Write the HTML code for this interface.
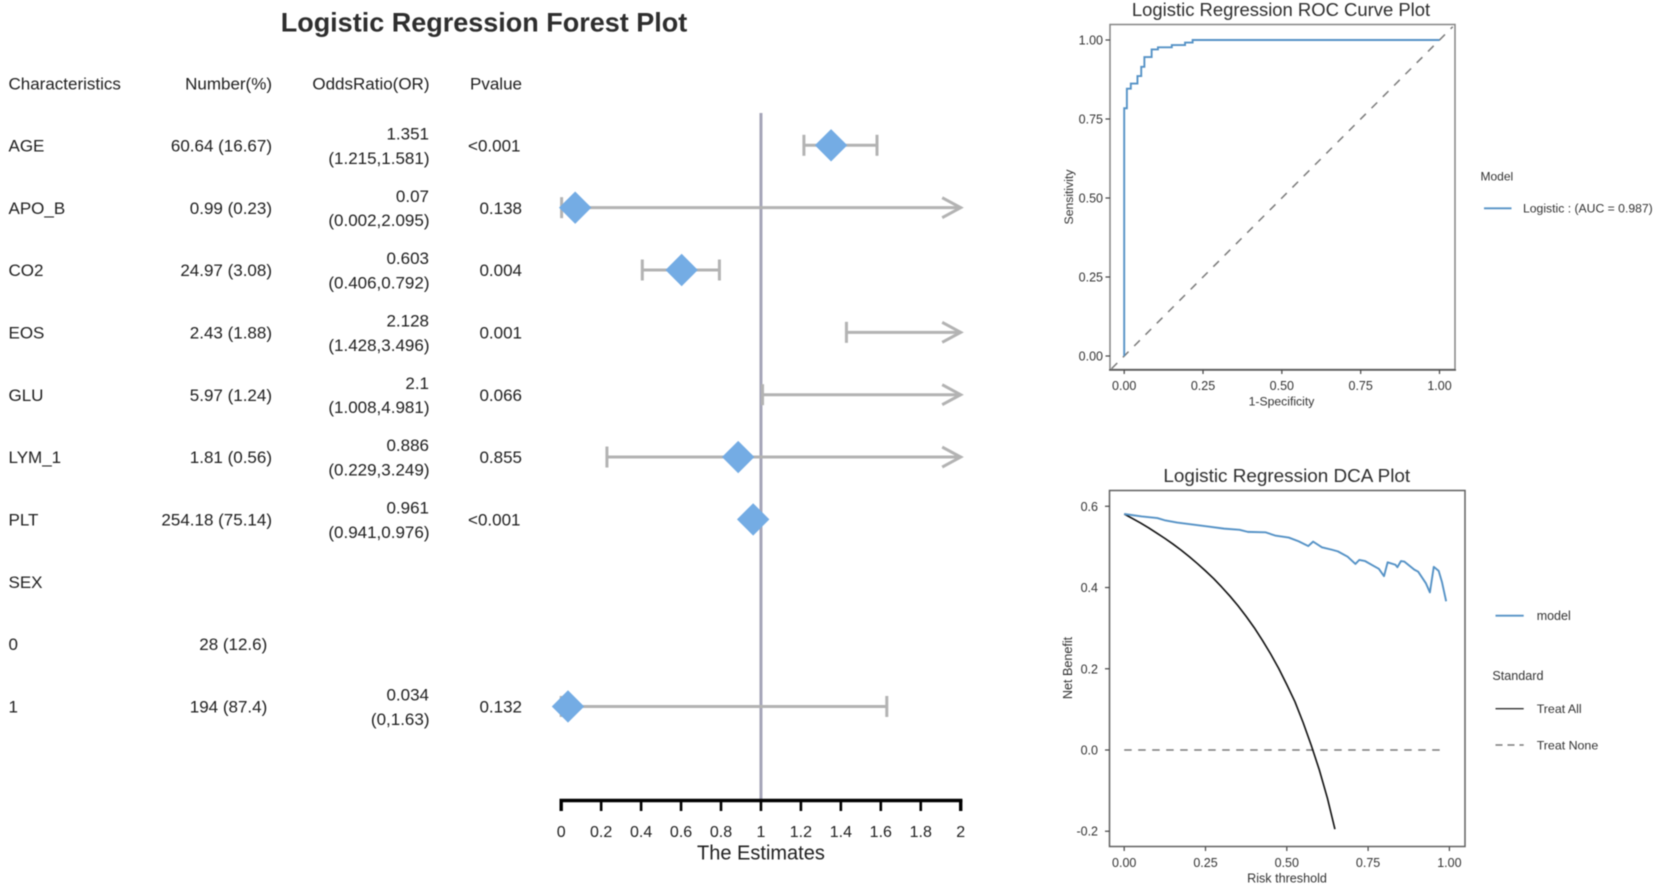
<!DOCTYPE html>
<html lang="en">
<head>
<meta charset="utf-8">
<title>Logistic Regression Forest, ROC and DCA Plots</title>
<style>
html,body{margin:0;padding:0;background:#fff;width:1654px;height:889px;overflow:hidden}
svg{display:block;filter:blur(0.5px)}
text{font-family:"Liberation Sans",sans-serif}
</style>
</head>
<body>
<svg id="root" xmlns="http://www.w3.org/2000/svg" width="1654" height="889" viewBox="0 0 1654 889">
<rect x="0" y="0" width="1654" height="889" fill="#ffffff"></rect>
</svg>
<script>
// ---------- Forest plot data ----------
const forestLabels = ['AGE','APO_B','CO2','EOS','GLU','LYM_1','PLT','SEX','0','1'];
const forestNumbers = ['60.64 (16.67)','0.99 (0.23)','24.97 (3.08)','2.43 (1.88)','5.97 (1.24)','1.81 (0.56)','254.18 (75.14)','','28 (12.6)\u00a0','194 (87.4)\u00a0'];
const forestEstimates = [1.351,0.07,0.603,2.128,2.1,0.886,0.961,null,null,0.034];
const forestLows = [1.215,0.002,0.406,1.428,1.008,0.229,0.941,null,null,0];
const forestHighs = [1.581,2.095,0.792,3.496,4.981,3.249,0.976,null,null,1.63];
const forestPvalues = ['<0.001','0.138','0.004','0.001','0.066','0.855','<0.001','','','0.132'];
const forestTicks = [0,0.2,0.4,0.6,0.8,1,1.2,1.4,1.6,1.8,2];

// ---------- ROC data ----------
const rocFpr = [0,0,0.0085,0.021,0.042,0.054,0.064,0.087,0.107,0.151,0.193,0.217,1];
const rocTpr = [0,0.784,0.846,0.862,0.886,0.915,0.946,0.97,0.977,0.984,0.992,1,1];
const rocDiagonal = [-0.04,1.042];
const rocTicks = [0,0.25,0.5,0.75,1];

// ---------- DCA data ----------
const dcaThresholds = [0,0.054,0.102,0.127,0.163,0.211,0.259,0.307,0.355,0.38,0.434,0.464,0.506,0.536,0.566,0.581,0.608,0.639,0.657,0.687,0.711,0.723,0.741,0.765,0.783,0.799,0.81,0.834,0.84,0.851,0.861,0.892,0.904,0.928,0.94,0.952,0.967,0.977,0.99];
const dcaModel = [0.581,0.575,0.571,0.565,0.56,0.555,0.55,0.545,0.542,0.537,0.536,0.528,0.523,0.514,0.502,0.513,0.499,0.493,0.489,0.476,0.458,0.468,0.465,0.454,0.446,0.428,0.462,0.456,0.45,0.465,0.464,0.444,0.439,0.41,0.388,0.451,0.441,0.414,0.366];
const treatAllThresholds = [0,0.025,0.05,0.075,0.1,0.125,0.15,0.175,0.2,0.225,0.25,0.275,0.3,0.325,0.35,0.375,0.4,0.425,0.45,0.475,0.5,0.525,0.55,0.575,0.6,0.625,0.648];
const treatAllValues = [0.581,0.57,0.559,0.547,0.534,0.521,0.507,0.492,0.476,0.459,0.441,0.422,0.401,0.379,0.355,0.329,0.301,0.27,0.237,0.201,0.161,0.119,0.068,0.012,-0.049,-0.119,-0.195];
const treatNoneThresholds = [0,0.976];
const treatNoneValues = [0,0];
const dcaXTicks = [0,0.25,0.5,0.75,1];
const dcaYTicks = [-0.2,0,0.2,0.4,0.6];

const root = document.getElementById('root');
const NS = 'http://www.w3.org/2000/svg';
function mk(tag, attrs) {
  const el = document.createElementNS(NS, tag);
  for (const k in attrs) el.setAttribute(k, attrs[k]);
  root.appendChild(el);
  return el;
}
function txt(str, x, cy, size, anchor, fill, extra) {
  const el = mk('text', Object.assign({x: x, y: cy + size * 0.36, 'font-size': size, 'text-anchor': anchor, fill: fill}, extra || {}));
  el.textContent = str;
  return el;
}
function vtxt(str, cx, cy, size, fill) {
  const el = mk('text', {x: 0, y: size * 0.36, 'font-size': size, 'text-anchor': 'middle', fill: fill, transform: 'translate(' + cx + ',' + cy + ') rotate(-90)'});
  el.textContent = str;
  return el;
}
function named(el, name) {
  
  
  return el;
}

// ---------- Forest axis functions ----------
const fx = v => 561.2 + v * 199.75;
const fy = i => 145.3 + i * 62.35;
const TXT = '#202020';
const GREY = '#b3b3b3';

named(txt('Logistic Regression Forest Plot', 484, 22, 27, 'middle', '#2e2e2e', {'font-weight': 'bold'}), 'forest-title');
named(txt('Characteristics', 8.5, 83.5, 17, 'start', TXT), 'header-characteristics');
named(txt('Number(%)', 272, 83.5, 17, 'end', TXT), 'header-number');
named(txt('OddsRatio(OR)', 429.5, 83.5, 17, 'end', TXT), 'header-odds-ratio');
named(txt('Pvalue', 522, 83.5, 17, 'end', TXT), 'header-pvalue');

forestLabels.forEach(function (label, i) {
  const y = fy(i);
  named(txt(label, 8.5, y, 17, 'start', TXT), 'row-label');
  if (forestNumbers[i]) named(txt(forestNumbers[i], 272, y, 17, 'end', TXT), 'row-number');
  if (forestEstimates[i] !== null) {
    named(txt(String(forestEstimates[i]), 429, y - 12, 17, 'end', TXT), 'row-odds-ratio');
    named(txt('(' + forestLows[i] + ',' + forestHighs[i] + ')', 429.5, y + 12.4, 17, 'end', TXT), 'row-confidence-interval');
  }
  if (forestPvalues[i]) named(txt(forestPvalues[i], forestPvalues[i].charAt(0) === '<' ? 520.5 : 522, y, 17, 'end', TXT), 'row-pvalue');
});

// reference line
const refLine = mk('line', {x1: fx(1), x2: fx(1), y1: 113, y2: 800, stroke: '#a5a5b8', 'stroke-width': 3});
named(refLine, 'reference-line');

// whiskers
forestEstimates.forEach(function (est, i) {
  if (est === null) return;
  const y = fy(i);
  const lo = Math.max(forestLows[i], 0), hi = Math.min(forestHighs[i], 2);
  named(mk('line', {x1: fx(lo), x2: fx(hi), y1: y, y2: y, stroke: GREY, 'stroke-width': 3}), 'confidence-whisker');
  named(mk('line', {x1: fx(lo), x2: fx(lo), y1: y - 10.5, y2: y + 10.5, stroke: GREY, 'stroke-width': 3}), 'whisker-low-cap');
  if (forestHighs[i] > 2) {
    const tip = fx(2);
    named(mk('path', {d: 'M' + (tip - 18.5) + ' ' + (y - 10) + 'L' + tip + ' ' + y + 'L' + (tip - 18.5) + ' ' + (y + 10), fill: 'none', stroke: GREY, 'stroke-width': 3}), 'whisker-arrow');
  } else {
    named(mk('line', {x1: fx(hi), x2: fx(hi), y1: y - 10.5, y2: y + 10.5, stroke: GREY, 'stroke-width': 3}), 'whisker-high-cap');
  }
});
// diamonds
forestEstimates.forEach(function (est, i) {
  if (est === null || est > 2) return;
  const x = fx(est), y = fy(i), r = 16.2;
  named(mk('path', {d: 'M' + (x - r) + ' ' + y + 'L' + x + ' ' + (y - r) + 'L' + (x + r) + ' ' + y + 'L' + x + ' ' + (y + r) + 'Z', fill: '#74ace4'}), 'estimate-diamond');
});
// axis
named(mk('line', {x1: fx(0) - 1.7, x2: fx(2) + 1.7, y1: 800.5, y2: 800.5, stroke: '#000000', 'stroke-width': 3.4}), 'forest-x-axis');
forestTicks.forEach(function (t, i) {
  const w = (i === 0 || i === forestTicks.length - 1) ? 3.4 : 2.6;
  named(mk('line', {x1: fx(t), x2: fx(t), y1: 800, y2: 811, stroke: '#000000', 'stroke-width': w}), 'forest-x-tick');
  named(txt(String(t), fx(t), 831, 16, 'middle', TXT), 'forest-x-tick-label');
});
named(txt('The Estimates', fx(1), 852.5, 20, 'middle', TXT), 'forest-x-axis-title');

// ---------- ROC axis functions ----------
const rx = v => 1124.2 + v * 315.3;
const ry = v => 356 - v * 316;
const AX = '#333333';
const BLUE = '#5592c6';

named(txt('Logistic Regression ROC Curve Plot', 1281, 9.5, 18.45, 'middle', '#2e2e2e'), 'roc-title');
named(mk('rect', {x: 1110, y: 24.5, width: 345, height: 345, fill: 'none', stroke: '#858585', 'stroke-width': 1.5}), 'roc-panel');
named(mk('line', {x1: 1109, x2: 1456, y1: 370, y2: 370, stroke: '#555555', 'stroke-width': 1.5}), 'roc-x-axis');
rocTicks.forEach(function (t) {
  named(mk('line', {x1: rx(t), x2: rx(t), y1: 370, y2: 374, stroke: '#444444', 'stroke-width': 1.2}), 'roc-x-tick');
  named(txt(t.toFixed(2), rx(t), 385.7, 12.5, 'middle', AX), 'roc-x-tick-label');
  named(mk('line', {x1: 1105.5, x2: 1110, y1: ry(t), y2: ry(t), stroke: '#444444', 'stroke-width': 1.2}), 'roc-y-tick');
  named(txt(t.toFixed(2), 1103, ry(t), 12.5, 'end', AX), 'roc-y-tick-label');
});
named(txt('1-Specificity', 1281.5, 401, 12.2, 'middle', AX), 'roc-x-axis-title');
named(vtxt('Sensitivity', 1068.5, 197, 12.2, AX), 'roc-y-axis-title');
named(mk('line', {x1: rx(rocDiagonal[0]), y1: ry(rocDiagonal[0]), x2: rx(rocDiagonal[1]), y2: ry(rocDiagonal[1]), stroke: '#7a7a7a', 'stroke-width': 1.5, 'stroke-dasharray': '8 8'}), 'roc-diagonal');
let rocPath = 'M' + rx(rocFpr[0]) + ' ' + ry(rocTpr[0]);
rocFpr.forEach(function (f, i) {
  if (i === 0) return;
  rocPath += 'L' + rx(f) + ' ' + ry(rocTpr[i - 1]) + 'L' + rx(f) + ' ' + ry(rocTpr[i]);
});
named(mk('path', {d: rocPath, fill: 'none', stroke: BLUE, 'stroke-width': 1.9}), 'roc-curve');
named(txt('Model', 1480.5, 176, 12, 'start', AX), 'roc-legend-title');
named(mk('line', {x1: 1484, x2: 1511.5, y1: 208.3, y2: 208.3, stroke: BLUE, 'stroke-width': 1.9}), 'roc-legend-line');
named(txt('Logistic : (AUC = 0.987)', 1523, 208.3, 12.2, 'start', AX), 'roc-legend-label');

// ---------- DCA axis functions ----------
const dx = v => 1124.2 + v * 325.2;
const dy = v => 750 - v * 406.2;

named(txt('Logistic Regression DCA Plot', 1286.8, 475, 18.9, 'middle', '#2e2e2e'), 'dca-title');
named(mk('rect', {x: 1109.5, y: 490.5, width: 355.5, height: 356, fill: 'none', stroke: '#606060', 'stroke-width': 1.5}), 'dca-panel');
dcaXTicks.forEach(function (t) {
  named(mk('line', {x1: dx(t), x2: dx(t), y1: 847, y2: 851, stroke: '#444444', 'stroke-width': 1.2}), 'dca-x-tick');
  named(txt(t.toFixed(2), dx(t), 862.7, 12.5, 'middle', AX), 'dca-x-tick-label');
});
dcaYTicks.forEach(function (t) {
  named(mk('line', {x1: 1105, x2: 1109.5, y1: dy(t), y2: dy(t), stroke: '#444444', 'stroke-width': 1.2}), 'dca-y-tick');
  named(txt(t.toFixed(1), 1098, dy(t), 12.5, 'end', AX), 'dca-y-tick-label');
});
named(txt('Risk threshold', 1287, 878, 12.6, 'middle', AX), 'dca-x-axis-title');
named(vtxt('Net Benefit', 1067.5, 668, 12.6, AX), 'dca-y-axis-title');

function pts(xs, ys) {
  return xs.map(function (x, i) { return dx(x) + ',' + dy(ys[i]); }).join(' ');
}
named(mk('polyline', {points: pts(treatNoneThresholds, treatNoneValues), fill: 'none', stroke: '#7a7a7a', 'stroke-width': 1.4, 'stroke-dasharray': '7.5 6.5'}), 'treat-none-line');
named(mk('polyline', {points: pts(treatAllThresholds, treatAllValues), fill: 'none', stroke: '#111111', 'stroke-width': 1.6, 'stroke-linejoin': 'round'}), 'treat-all-line');
named(mk('polyline', {points: pts(dcaThresholds, dcaModel), fill: 'none', stroke: BLUE, 'stroke-width': 1.9, 'stroke-linejoin': 'round'}), 'model-line');

named(mk('line', {x1: 1495.5, x2: 1523.7, y1: 615.7, y2: 615.7, stroke: BLUE, 'stroke-width': 1.9}), 'dca-legend-model-line');
named(txt('model', 1536.7, 615.7, 12.5, 'start', AX), 'dca-legend-model-label');
named(txt('Standard', 1492.4, 675.7, 12.6, 'start', AX), 'dca-legend-standard-title');
named(mk('line', {x1: 1495.5, x2: 1523.7, y1: 708.7, y2: 708.7, stroke: '#333333', 'stroke-width': 1.4}), 'dca-legend-treat-all-line');
named(txt('Treat All', 1536.7, 708.7, 12.4, 'start', AX), 'dca-legend-treat-all-label');
named(mk('line', {x1: 1495.5, x2: 1523.7, y1: 745, y2: 745, stroke: '#7a7a7a', 'stroke-width': 1.4, 'stroke-dasharray': '7 5'}), 'dca-legend-treat-none-line');
named(txt('Treat None', 1536.7, 745, 12.4, 'start', AX), 'dca-legend-treat-none-label');
</script>
</body>
</html>
